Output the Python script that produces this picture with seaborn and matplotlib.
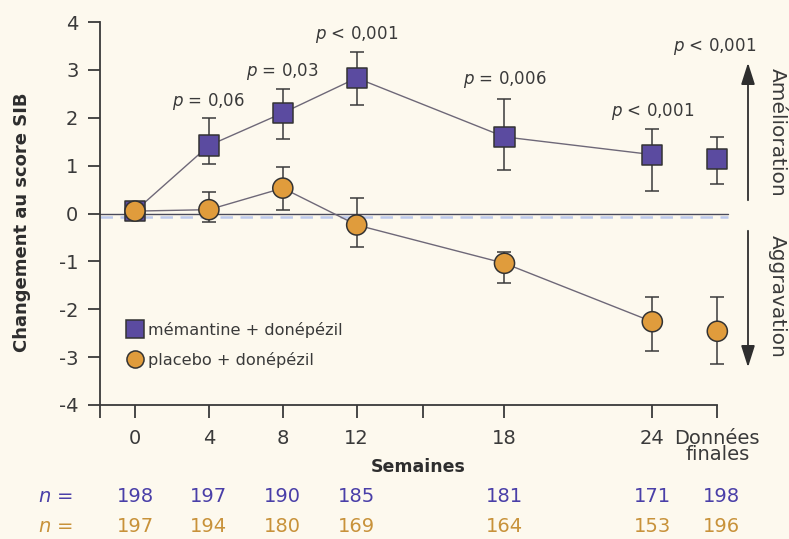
import matplotlib
matplotlib.use("Agg")
import matplotlib.pyplot as plt
import seaborn as sns
import numpy as np
import pandas as pd

# ---- data ----
weeks = ["0", "4", "8", "12", "18", "24", "Données\nfinales"]
mem_mean = [0.05, 1.42, 2.10, 2.83, 1.60, 1.23, 1.13]
mem_low = [0.05, 1.03, 1.55, 2.26, 0.90, 0.48, 0.62]
mem_high = [0.05, 1.99, 2.60, 3.38, 2.39, 1.76, 1.60]
pla_mean = [0.05, 0.08, 0.53, -0.24, -1.04, -2.26, -2.46]
pla_low = [0.05, -0.18, 0.08, -0.69, -1.45, -2.88, -3.14]
pla_high = [0.05, 0.45, 0.97, 0.33, -0.81, -1.75, -1.75]
p_labels = ["", "= 0,06", "= 0,03", "< 0,001", "= 0,006", "< 0,001", "< 0,001"]
n_mem = [198, 197, 190, 185, 181, 171, 198]
n_pla = [197, 194, 180, 169, 164, 153, 196]
series_names = ["mémantine + donépézil", "placebo + donépézil"]

# ---- layout (axis positions on broken week axis) ----
xpos = [0, 1, 2, 3, 5, 7, 7.88]
W, H = 789, 539
BG = "#FDF9EE"
PURPLE = "#5B4BA0"
ORANGE = "#E09C3C"
NPURPLE = "#4A3FA8"
NORANGE = "#C8923A"
DARK = "#3A3A3A"
LINEC = "#6E6878"

sns.set_theme(style="white")
plt.rcParams["font.family"] = ["DejaVu Sans"]

fig = plt.figure(figsize=(W / 100, H / 100), dpi=100, facecolor=BG)
px0 = 135.0
ux = 73.9
x_left = (100 - px0) / ux
x_right = (W - px0) / ux
ax = fig.add_axes([100 / W, (H - 405) / H, (W - 100) / W, (405 - 22) / H])
ax.set_facecolor(BG)
ax.set_xlim(x_left, x_right)
ax.set_ylim(-4, 4)

df = pd.DataFrame({
    "x": xpos * 2,
    "y": mem_mean + pla_mean,
    "lo": mem_low + pla_low,
    "hi": mem_high + pla_high,
    "group": [series_names[0]] * len(xpos) + [series_names[1]] * len(xpos),
})
df["final"] = [False] * 6 + [True] + [False] * 6 + [True]

# zero lines
ax.plot([x_left, (728 - px0) / ux], [-0.065, -0.065], color="#BCC9EC", lw=1.8,
        ls=(0, (5, 3)), zorder=1)
ax.plot([x_left, (728 - px0) / ux], [0, 0], color="#4A4A5A", lw=1.0, zorder=1.5)

# connecting lines (not to final point)
sns.lineplot(data=df[~df["final"]], x="x", y="y", units="group", estimator=None,
             color=LINEC, lw=1.0, ax=ax, legend=False, zorder=2)

# error bars
for g in series_names:
    d = df[df["group"] == g]
    ax.errorbar(d["x"], d["y"], yerr=[d["y"] - d["lo"], d["hi"] - d["y"]],
                fmt="none", ecolor=DARK, elinewidth=1.1, capsize=4.8, capthick=1.1,
                zorder=3)

sns.scatterplot(data=df, x="x", y="y", hue="group", style="group",
                palette=[PURPLE, ORANGE], markers=["s", "o"],
                hue_order=series_names, style_order=series_names,
                s=210, edgecolor="#333333", linewidth=1.1, ax=ax, zorder=4,
                legend=True)

leg = ax.legend(loc="upper left", bbox_to_anchor=((127 - 100) / (W - 100), (405 - 322) / 383),
                frameon=False, fontsize=11.6, handlelength=1.0, handletextpad=0.3,
                labelspacing=0.85, borderpad=0, borderaxespad=0, markerscale=0.85)
for t in leg.get_texts():
    t.set_color(DARK)

# p-values
p_y = [None, 101, 71, 34, 79, 111, 46]
p_dx = [0, 0, 0, 0, 0, 0, -3]
for i, lab in enumerate(p_labels):
    if not lab:
        continue
    yv = (213 - p_y[i]) / 47.8
    ax.text(xpos[i] + p_dx[i] / ux, yv, r"$\it{p}$ " + lab, ha="center", va="center",
            fontsize=12, color=DARK)

# spines / ticks
sns.despine(ax=ax, top=True, right=True)
ax.spines["left"].set_bounds(-4, 4)
ax.spines["bottom"].set_bounds(x_left, xpos[-1])
for s in ["left", "bottom"]:
    ax.spines[s].set_color(DARK)
    ax.spines[s].set_linewidth(1.3)
ax.set_yticks(range(-4, 5))
ax.set_yticklabels([str(v) for v in range(-4, 5)])
ax.set_xticks([x_left] + xpos[:4] + [(423 - px0) / ux] + xpos[4:])
ax.set_xticklabels([""] + weeks[:4] + [""] + weeks[4:])
ax.tick_params(axis="both", direction="out", length=9, width=1.3, colors=DARK,
               labelsize=14, labelcolor=DARK, bottom=True, left=True)
ax.tick_params(axis="x", pad=8)
ax.tick_params(axis="y", pad=6.5)
for t in ax.get_xticklabels():
    if "\n" in t.get_text():
        t.set_linespacing(0.85)
ax.set_xlabel("")
ax.set_ylabel("")

fig.text(22 / W, 1 - 222 / H, "Changement au score SIB", rotation=90, ha="center",
         va="center", fontsize=13, fontweight="bold", color="#2E2E2E")
fig.text(418 / W, 1 - 467 / H, "Semaines", ha="center", va="center", fontsize=12.5,
         fontweight="bold", color="#2E2E2E")

# n rows
fig.text(55 / W, 1 - 497 / H, r"$\it{n}$ =", ha="center", va="center", fontsize=14,
         color=NPURPLE)
fig.text(55 / W, 1 - 527 / H, r"$\it{n}$ =", ha="center", va="center", fontsize=14,
         color=NORANGE)
for i in range(len(xpos)):
    xf = (px0 + xpos[i] * ux) / W
    if i == len(xpos) - 1:
        xf = 721 / W
    fig.text(xf, 1 - 497 / H, str(n_mem[i]), ha="center", va="center", fontsize=14,
             color=NPURPLE)
    fig.text(xf, 1 - 527 / H, str(n_pla[i]), ha="center", va="center", fontsize=14,
             color=NORANGE)

# direction arrows
ax.annotate("", xy=(748 / W, 1 - 60 / H), xytext=(748 / W, 1 - 203 / H),
            xycoords="figure fraction",
            arrowprops=dict(arrowstyle="-|>,head_length=1.1,head_width=0.35",
                            color="#2E2E2E", lw=1.3))
ax.annotate("", xy=(748 / W, 1 - 370 / H), xytext=(748 / W, 1 - 228 / H),
            xycoords="figure fraction",
            arrowprops=dict(arrowstyle="-|>,head_length=1.1,head_width=0.35",
                            color="#2E2E2E", lw=1.3))
fig.text(777 / W, 1 - 132 / H, "Amélioration", rotation=-90, ha="center", va="center",
         fontsize=14.5, color=DARK)
fig.text(777 / W, 1 - 296 / H, "Aggravation", rotation=-90, ha="center", va="center",
         fontsize=14.5, color=DARK)

fig.savefig("out.png", dpi=100, facecolor=BG)
